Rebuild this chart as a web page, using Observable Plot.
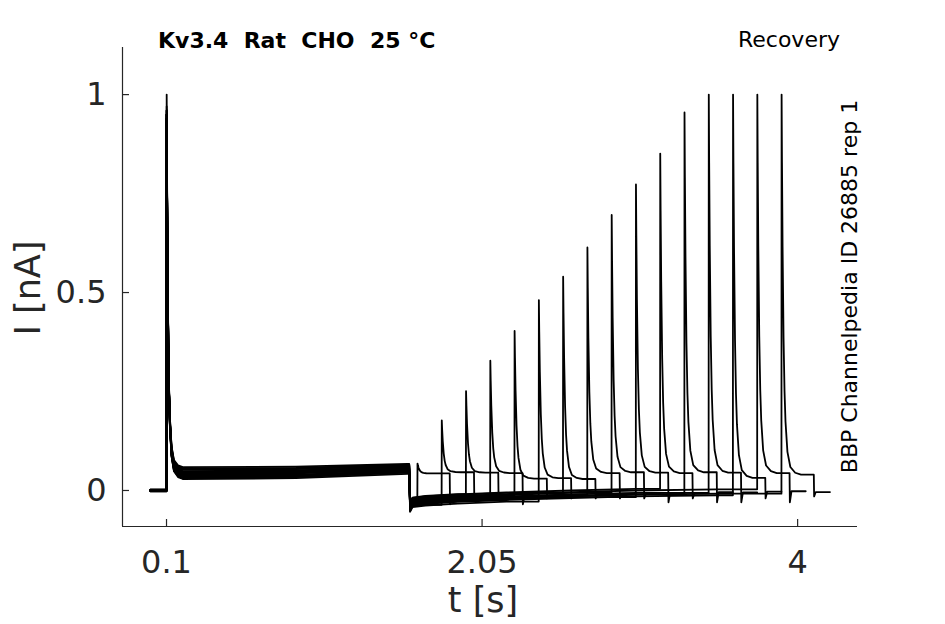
<!DOCTYPE html>
<html>
<head>
<meta charset="utf-8">
<script src="https://cdn.jsdelivr.net/npm/d3@7"></script>
<script src="https://cdn.jsdelivr.net/npm/@observablehq/plot@0.6"></script>
<style>
  html, body { margin: 0; padding: 0; background: #fff; }
  #chart svg { display: block; }
</style>
</head>
<body>
<div id="chart"></div>
<script>
// ---------- data ----------
const xTicks = [0.1, 2.05, 4];
const yTicks = [0, 0.5, 1];
const xTickLabels = ["0.1", "2.05", "4"];
const yTickLabels = ["0", "0.5", "1"];
const xDomain = [-0.172, 4.37];
const yDomain = [-0.091, 1.119];

const sweepIds = [1, 2, 3, 4, 5, 6, 7, 8, 9, 10, 11, 12, 13, 14, 15, 16];

// sweep timing (s)
const sweepStart = 0.0;
const pulse1On = 0.1;
const pulse1Off = 1.6;
const pulse2Dur = 0.2;
const postDur = 0.1;

// pre-pulse holding current (nA)
const preLevel = [0.0, 0.002, -0.002, 0.001, 0.0, -0.001, 0.002, 0.0, -0.002, 0.001, 0.0, 0.001, -0.001, 0.0, 0.002, -0.001];

// first pulse: peak and sustained current at 0.2 s, 0.9 s, 1.59 s
const pulse1Peak = [1.0, 0.97, 0.95, 0.94, 0.96, 0.95, 0.94, 0.95, 0.96, 0.94, 0.95, 0.93, 0.95, 0.94, 0.96, 0.95];
const pulse1A = [0.029, 0.035, 0.047, 0.032, 0.056, 0.040, 0.052, 0.038, 0.044, 0.059, 0.033, 0.049, 0.042, 0.054, 0.036, 0.045];
const pulse1B = [0.031, 0.037, 0.050, 0.034, 0.057, 0.043, 0.054, 0.040, 0.047, 0.060, 0.036, 0.051, 0.045, 0.056, 0.039, 0.048];
const pulse1C = [0.042, 0.047, 0.058, 0.045, 0.065, 0.052, 0.062, 0.050, 0.055, 0.067, 0.046, 0.060, 0.054, 0.064, 0.049, 0.057];

// fast transient shape (fraction of peak above plateau vs time after peak, s)
const decayDt   = [0, 0.002, 0.005, 0.010, 0.015, 0.020, 0.030, 0.045, 0.070, 0.100];
const decayFrac = [1, 0.82, 0.60, 0.36, 0.22, 0.14, 0.06, 0.02, 0.005, 0];

// holding current between the pulses (common shape) and per-sweep offset
const gapT = [1.605, 1.62, 1.70, 1.90, 2.20, 2.60, 3.00, 3.50, 4.00];
const gapV = [-0.042, -0.030, -0.026, -0.021, -0.016, -0.011, -0.007, -0.004, -0.002];
const gapOffset = [0.008, -0.010, 0.012, -0.003, 0.003, -0.012, 0.010, 0.0, 0.005, -0.006, 0.011, -0.002, 0.001, -0.008, 0.007, -0.004];

// second (test) pulse
const pulse2On   = [1.65, 1.80, 1.95, 2.10, 2.25, 2.40, 2.55, 2.70, 2.85, 3.00, 3.15, 3.30, 3.45, 3.60, 3.75, 3.90];
const pulse2Peak = [0.068, 0.177, 0.251, 0.328, 0.403, 0.481, 0.540, 0.614, 0.696, 0.773, 0.851, 0.955, 1.0, 1.0, 1.0, 1.0];
const pulse2Level = [0.043, 0.046, 0.045, 0.044, 0.030, 0.031, 0.029, 0.044, 0.046, 0.045, 0.044, 0.046, 0.045, 0.032, 0.044, 0.040];
const tailDip  = [-0.035, -0.020, -0.020, -0.035, -0.020, -0.020, -0.020, -0.020, -0.020, -0.030, -0.020, -0.030, -0.030, -0.020, -0.030, -0.015];
const postLevel = [-0.022, -0.019, -0.017, -0.014, -0.013, -0.011, -0.010, -0.008, -0.009, -0.006, -0.007, -0.004, -0.005, -0.003, -0.002, -0.004];

// ---------- build the traces ----------
const rows = [];
sweepIds.forEach((id, k) => {
  const push = (t, i) => rows.push({sweep: id, t, i});
  push(sweepStart, preLevel[k]);
  push(pulse1On, preLevel[k]);
  const tp1 = pulse1On + 0.001;
  decayDt.forEach((dt, j) => push(tp1 + dt, pulse1A[k] + (pulse1Peak[k] - pulse1A[k]) * decayFrac[j]));
  push(0.2, pulse1A[k]);
  push(0.9, pulse1B[k]);
  push(1.59, pulse1C[k]);
  push(pulse1Off, pulse1C[k]);
  let last = gapV[0] + gapOffset[k];
  gapT.forEach((t, j) => {
    if (t < pulse2On[k]) { last = gapV[j] + gapOffset[k]; push(t, last); }
  });
  push(pulse2On[k], last);
  const tp2 = pulse2On[k] + 0.001;
  decayDt.forEach((dt, j) => push(tp2 + dt * 1.2, pulse2Level[k] + (pulse2Peak[k] - pulse2Level[k]) * decayFrac[j]));
  const tEnd2 = pulse2On[k] + pulse2Dur;
  push(tEnd2, pulse2Level[k]);
  push(tEnd2 + 0.002, tailDip[k]);
  push(tEnd2 + 0.012, postLevel[k]);
  push(tEnd2 + postDur, postLevel[k]);
});

const ink = "#262626";
const fmtX = d => xTickLabels[xTicks.indexOf(d)];
const fmtY = d => yTickLabels[yTicks.indexOf(d)];

const plot = Plot.plot({
  width: 945,
  height: 624,
  marginLeft: 122,
  marginRight: 88,
  marginTop: 47,
  marginBottom: 98,
  style: {fontFamily: "'DejaVu Sans', sans-serif", color: ink, background: "#fff", overflow: "visible"},
  x: {domain: xDomain, label: null},
  y: {domain: yDomain, label: null},
  marks: [
    Plot.ruleX([xDomain[0]], {stroke: ink, strokeWidth: 1.2}),
    Plot.ruleY([yDomain[0]], {stroke: ink, strokeWidth: 1.2}),
    Plot.axisX({ticks: xTicks, tickSize: 7, dy: -7, tickFormat: () => "", label: null, strokeWidth: 1.2}),
    Plot.axisY({ticks: yTicks, tickSize: 7, dx: 7, tickFormat: () => "", label: null, strokeWidth: 1.2}),
    Plot.axisX({ticks: xTicks, tickSize: 0, tickPadding: 24, fontSize: 32, tickFormat: fmtX, label: null}),
    Plot.axisY({ticks: yTicks, tickSize: 0, tickPadding: 16, fontSize: 32, tickFormat: fmtY, label: null}),
    Plot.line(rows, {x: "t", y: "i", z: "sweep", stroke: "#000", strokeWidth: 1.8, strokeLinejoin: "round"})
  ]
});

document.getElementById("chart").appendChild(plot);

// ---------- texts ----------
const svg = d3.select(plot);
svg.append("text")
  .attr("x", 158).attr("y", 48)
  .attr("text-anchor", "start")
  .attr("font-family", "'DejaVu Sans', sans-serif")
  .attr("font-weight", "bold").attr("font-size", 22)
  .attr("fill", "#000")
  .style("white-space", "pre")
  .attr("xml:space", "preserve")
  .text("Kv3.4  Rat  CHO  25 °C");
svg.append("text")
  .attr("x", 840).attr("y", 47)
  .attr("text-anchor", "end")
  .attr("font-family", "'DejaVu Sans', sans-serif")
  .attr("font-size", 22).attr("fill", "#000")
  .text("Recovery");
svg.append("text")
  .attr("transform", "translate(857,286.5) rotate(-90)")
  .attr("text-anchor", "middle")
  .attr("font-family", "'DejaVu Sans', sans-serif")
  .attr("font-size", 22).attr("fill", "#000")
  .text("BBP Channelpedia ID 26885 rep 1");
svg.append("text")
  .attr("transform", "translate(40,288) rotate(-90)")
  .attr("text-anchor", "middle")
  .attr("font-family", "'DejaVu Sans', sans-serif")
  .attr("font-size", 35).attr("fill", ink)
  .text("I [nA]");
svg.append("text")
  .attr("x", 483).attr("y", 612)
  .attr("text-anchor", "middle")
  .attr("font-family", "'DejaVu Sans', sans-serif")
  .attr("font-size", 35).attr("fill", ink)
  .text("t [s]");
</script>
</body>
</html>
